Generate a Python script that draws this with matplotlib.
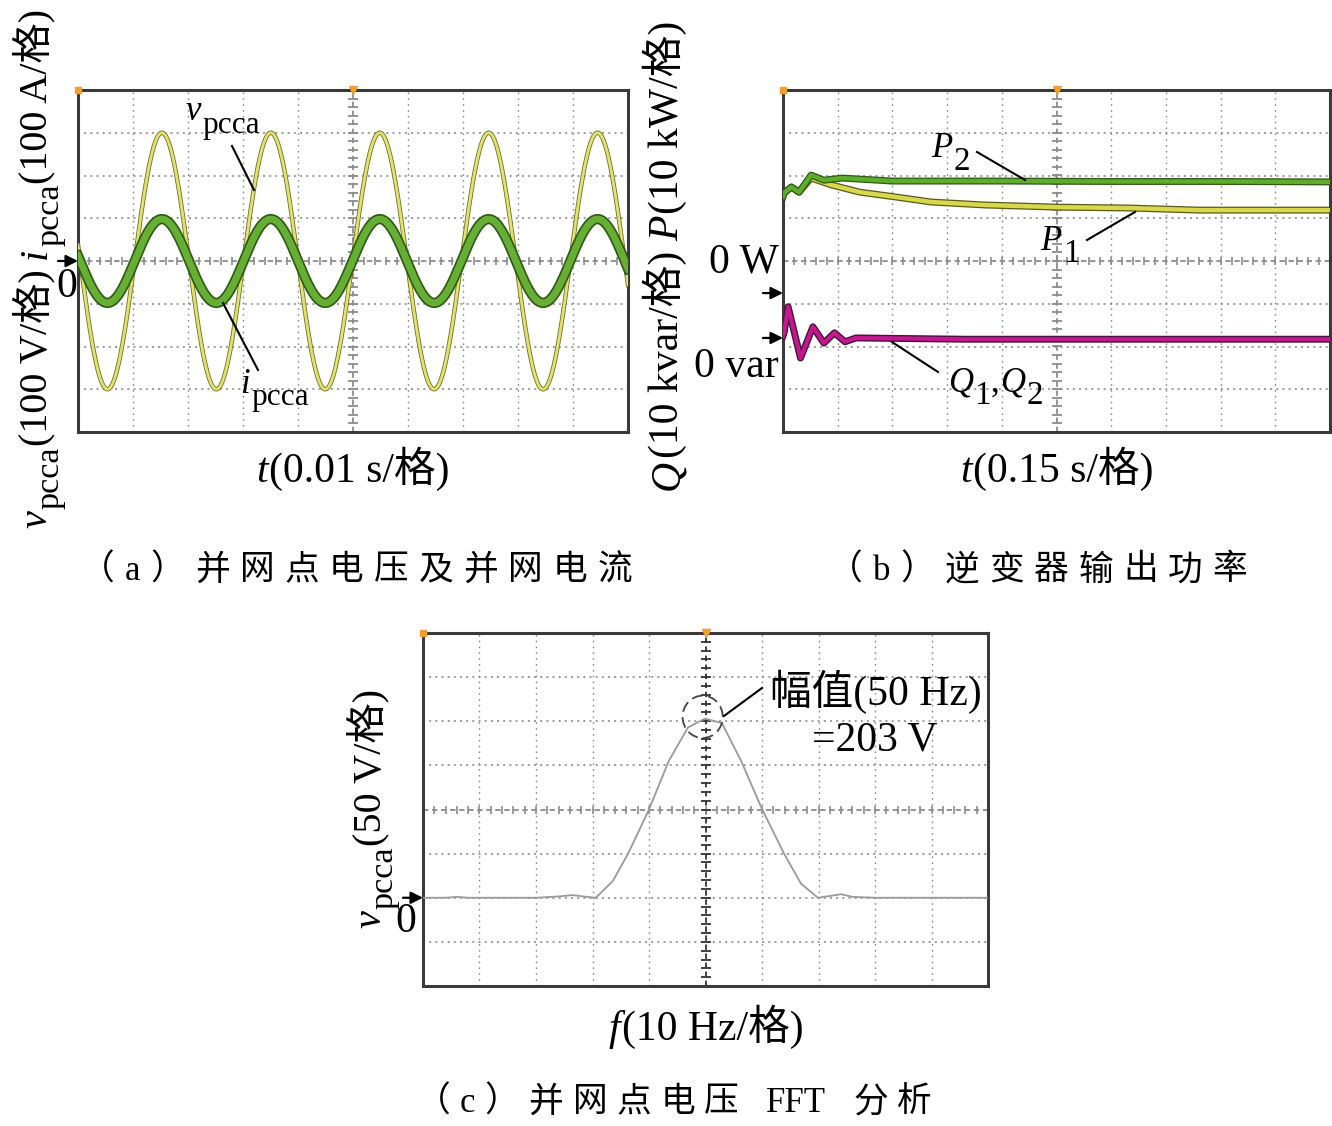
import numpy as np
import matplotlib
matplotlib.use('Agg')
import matplotlib.pyplot as plt
from matplotlib.lines import Line2D
from matplotlib.patches import Ellipse

plt.rcParams['font.family'] = ['Liberation Serif', 'Noto Sans CJK SC', 'DejaVu Sans']

# ---------------- data ----------------
# (a) PCC voltage / current, sinusoid parameters
a_time_span = [0.0, 0.1]            # s  (10 div x 0.01 s)
v_pcca_peak = 300.0                 # V
i_pcca_peak = 98.0                  # A
grid_freq = 50.5                    # Hz (peak spacing on screen)
zero_cross_time = 0.0004            # s, first downward zero crossing

# (b) inverter output power
p2_time = [0.0, 0.003, 0.023, 0.044, 0.077, 0.112, 0.162, 0.30, 0.60, 0.90, 1.20, 1.50]
p2_kw = [22.6, 23.4, 24.8, 23.6, 27.6, 26.4, 26.9, 26.2, 26.2, 26.1, 26.1, 26.0]
p1_time = [0.0, 0.003, 0.023, 0.044, 0.077, 0.132, 0.211, 0.307, 0.406, 0.554, 0.751, 0.946, 1.143, 1.50]
p1_kw = [22.6, 23.4, 24.8, 23.6, 26.9, 25.3, 23.6, 22.5, 21.3, 20.6, 20.1, 19.9, 19.4, 19.4]
q_time = [0.0, 0.003, 0.014, 0.048, 0.082, 0.112, 0.141, 0.170, 0.200, 0.50, 0.80, 1.10, 1.50]
q_kvar = [0.5, 1.2, 7.3, -4.7, 2.6, -1.2, 1.2, -0.9, 0.0, -0.3, -0.3, -0.3, -0.3]
p_zero_div = -0.75                  # channel offsets (div)
q_zero_div = -1.80

# (c) FFT of PCC voltage
fft_freq = [0, 4, 6, 8, 20, 24, 26.5, 29, 30.6, 33.6, 36.3, 40.0, 43.5, 46.9, 49.9,
            52.9, 56.3, 59.9, 63.9, 66.9, 69.9, 72, 74, 76, 80, 90, 100]
fft_mag = [0, 0, 1, 0, 0, 1.5, 3, 1, 0, 19, 50, 100, 155, 193, 203,
           198, 155, 102, 50, 16, 0, 2, 4, 1, 0, 0, 0]

# ---------------- layout helpers ----------------
W, H = 1332, 1126
fig = plt.figure(figsize=(W / 100, H / 100), dpi=100)
fig.patch.set_facecolor('white')
REN = fig.canvas.get_renderer()


def ax_px(l, t, r, b):
    return fig.add_axes([l / W, 1 - b / H, (r - l) / W, (b - t) / H])


def pf(x, y):
    return x / W, 1 - y / H


def ftext(x, y, s, **kw):
    fx, fy = pf(x, y)
    return fig.text(fx, fy, s, **kw)


def fline(xs, ys, **kw):
    fig.add_artist(Line2D([x / W for x in xs], [1 - y / H for y in ys],
                          transform=fig.transFigure, **kw))


def rich(x, y, pieces, size, rot=0, align='left', sub_scale=0.85, sub_drop=0.36):
    """pieces: list of (text, kind) kind in rm/it/sub/gap. (x, y): baseline anchor in px."""
    em = size * 100 / 72.0
    items = []
    for txt, kind in pieces:
        if kind == 'gap':
            items.append((None, txt * em, 0))
            continue
        fs = size * sub_scale if kind == 'sub' else size
        style = 'italic' if kind == 'it' else 'normal'
        t = fig.text(0, 0, txt, fontsize=fs, style=style, ha='left', va='baseline',
                     rotation_mode='anchor')
        w = t.get_window_extent(renderer=REN).width
        extra = 0.04 * em if kind == 'it' else 0.0
        items.append((t, w + extra, sub_drop * em if kind == 'sub' else 0))
    total = sum(it[1] for it in items)
    start = {'left': 0, 'center': -total / 2, 'right': -total}[align]
    if rot == 0:
        d, n = np.array([1.0, 0.0]), np.array([0.0, 1.0])
    else:
        d, n = np.array([0.0, -1.0]), np.array([1.0, 0.0])
    pos = start
    for t, w, drop in items:
        if t is not None:
            p = np.array([x, y]) + d * pos + n * drop
            t.set_position(pf(*p))
            t.set_rotation(rot)
        pos += w


GRID = '#8c8c8c'


def scope(ax, xlim, ylim, center_color=GRID):
    ax.set_xlim(*xlim)
    ax.set_ylim(*ylim)
    xs = np.linspace(xlim[0], xlim[1], 11)
    ys = np.linspace(ylim[0], ylim[1], 9)
    for i, x in enumerate(xs[1:-1], 1):
        if i != 5:
            ax.axvline(x, color=GRID, lw=1.0, ls=(0, (1.2, 3.0)), zorder=0)
    for j, y in enumerate(ys[1:-1], 1):
        if j != 4:
            ax.axhline(y, color=GRID, lw=1.2, ls=(0, (1.2, 2.5)), zorder=0)
    xc, yc = xs[5], ys[4]
    ax.axvline(xc, color=center_color, lw=1.3, ls=(0, (3, 2)), zorder=0)
    ax.axhline(yc, color=GRID, lw=1.3, ls=(0, (3, 2)), zorder=0)
    dx = (xs[1] - xs[0]) / 5
    dy = (ys[1] - ys[0]) / 5
    mx = np.arange(xlim[0] + dx, xlim[1], dx)
    my = np.arange(ylim[0] + dy, ylim[1], dy)
    ax.plot(mx, np.full_like(mx, yc), ls='none', marker='|', ms=6, mew=1.2, color=GRID, zorder=0)
    ax.plot(np.full_like(my, xc), my, ls='none', marker='_', ms=7, mew=1.3, color=center_color, zorder=0)
    ax.set_xticks([])
    ax.set_yticks([])
    for s in ax.spines.values():
        s.set_color('#3a3a3a')
        s.set_linewidth(2.2)
    ax.plot([0], [1], transform=ax.transAxes, marker='s', ms=5, color='#f0a030', clip_on=False, zorder=5)
    ax.plot([0.5], [1], transform=ax.transAxes, marker='v', ms=6, color='#f0a030', clip_on=False, zorder=5)


def zero_arrow(ax, y):
    ax.annotate('', xy=(0, y), xycoords=ax.get_yaxis_transform(), xytext=(-20, 0),
                textcoords='offset pixels',
                arrowprops=dict(arrowstyle='-|>', color='black', lw=1.6, mutation_scale=18,
                                shrinkA=0, shrinkB=0), annotation_clip=False)


def spaced(x_left, x_right, y, tokens, **kw):
    texts = [fig.text(0, 0, tok, va='center', ha='left', **kw) for tok in tokens]
    widths = [t.get_window_extent(renderer=REN).width for t in texts]
    gap = (x_right - x_left - sum(widths)) / (len(tokens) - 1)
    x = x_left
    for t, w in zip(texts, widths):
        t.set_position(pf(x, y))
        x += w + gap


LAB = 30     # axis labels
INL = 25     # in-plot labels
CAP = 25     # captions

# ---------------- (a) ----------------
axA = ax_px(78, 90, 628, 432)
scope(axA, a_time_span, (-400, 400))
t = np.linspace(a_time_span[0], a_time_span[1], 3000)
v = -v_pcca_peak * np.sin(2 * np.pi * grid_freq * (t - zero_cross_time))
i = -i_pcca_peak * np.sin(2 * np.pi * grid_freq * (t - zero_cross_time))
axA.plot(t, v, color='#6f6f22', lw=3.2, zorder=2)
axA.plot(t, v, color='#e2e270', lw=2.0, zorder=3)
axA.plot(t, i, color='#2c5a12', lw=7.4, zorder=4)
axA.plot(t, i, color='#66ae34', lw=5.0, zorder=5)
zero_arrow(axA, 0)
ftext(67, 287, '0', fontsize=LAB, ha='center', va='center')
rich(46, 528, [('v', 'it'), ('pcca', 'sub'), ('(100 V/格)', 'rm'), (0.25, 'gap'),
               ('i', 'it'), ('pcca', 'sub'), ('(100 A/格)', 'rm')], 29, rot=90, sub_drop=0.3)
rich(353, 482, [('t', 'it'), ('(0.01 s/格)', 'rm')], LAB, align='center')
rich(186, 120, [('v', 'it'), ('pcca', 'sub')], INL, sub_scale=0.9)
fline([232, 254], [146, 190], color='black', lw=1.5)
rich(240, 393, [('i', 'it'), ('pcca', 'sub')], INL, sub_scale=0.9)
fline([258, 223], [370, 303], color='black', lw=1.5)
spaced(80, 632, 571, list('（a）并网点电压及并网电流'), fontsize=CAP)

# ---------------- (b) ----------------
axB = ax_px(783, 90, 1330, 432)
scope(axB, (0, 1.5), (-4, 4))
p2d = np.array(p2_kw) / 10 + p_zero_div
p1d = np.array(p1_kw) / 10 + p_zero_div
qd = np.array(q_kvar) / 10 + q_zero_div
axB.plot(p1_time, p1d, color='#5a5a1c', lw=5.0, zorder=2)
axB.plot(p1_time, p1d, color='#d8d84c', lw=3.2, zorder=3)
axB.plot(p2_time, p2d, color='#2e5a14', lw=5.0, zorder=4)
axB.plot(p2_time, p2d, color='#5eac2c', lw=3.2, zorder=5)
axB.plot(q_time, qd, color='#4a1038', lw=5.0, zorder=4)
axB.plot(q_time, qd, color='#c41890', lw=3.0, zorder=5)
zero_arrow(axB, p_zero_div)
zero_arrow(axB, q_zero_div)
ftext(779, 262, '0 W', fontsize=LAB, ha='right', va='center')
ftext(779, 367, '0 var', fontsize=LAB, ha='right', va='center')
rich(678, 490, [('Q', 'it'), ('(10 kvar/格)', 'rm'), (0.25, 'gap'),
                ('P', 'it'), ('(10 kW/格)', 'rm')], LAB, rot=90)
rich(1057, 482, [('t', 'it'), ('(0.15 s/格)', 'rm')], LAB, align='center')
rich(931, 157, [('P', 'it'), ('2', 'sub')], INL, sub_scale=0.95)
fline([977, 1025], [152, 180], color='black', lw=1.5)
rich(1040, 250, [('P', 'it'), ('1', 'sub')], INL, sub_scale=0.95)
fline([1087, 1135], [240, 212], color='black', lw=1.5)
rich(948, 392, [('Q', 'it'), ('1', 'sub'), (',', 'rm'), ('Q', 'it'), ('2', 'sub')], INL,
     sub_scale=0.95)
fline([938, 892], [372, 342], color='black', lw=1.5)
spaced(828, 1247, 571, list('（b）逆变器输出功率'), fontsize=CAP)

# ---------------- (c) ----------------
axC = ax_px(423, 633, 988, 986)
scope(axC, (0, 100), (-100, 300), center_color='#333333')
axC.plot(fft_freq, fft_mag, color='#9a9a9a', lw=1.3, zorder=3)
zero_arrow(axC, 0)
axC.add_patch(Ellipse((49.5, 205), 7.1, 48, fill=False, ec='#444444', lw=1.3,
                      ls=(0, (6, 3)), zorder=4))
fline([724, 762], [716, 688], color='black', lw=1.5)
ftext(770, 692, '幅值(50 Hz)', fontsize=LAB, ha='left', va='center')
ftext(812, 740, '=203 V', fontsize=LAB, ha='left', va='center')
ftext(406, 922, '0', fontsize=LAB, ha='center', va='center')
rich(380, 928, [('v', 'it'), ('pcca', 'sub'), ('(50 V/格)', 'rm')], 29, rot=90, sub_drop=0.3)
rich(706, 1040, [('f', 'it'), ('(10 Hz/格)', 'rm')], LAB, align='center')
spaced(416, 932, 1103, ['（', 'c', '）', '并', '网', '点', '电', '压', ' ', 'FFT', ' ', '分', '析'],
       fontsize=CAP)

fig.savefig('out.png', dpi=100, facecolor='white')
